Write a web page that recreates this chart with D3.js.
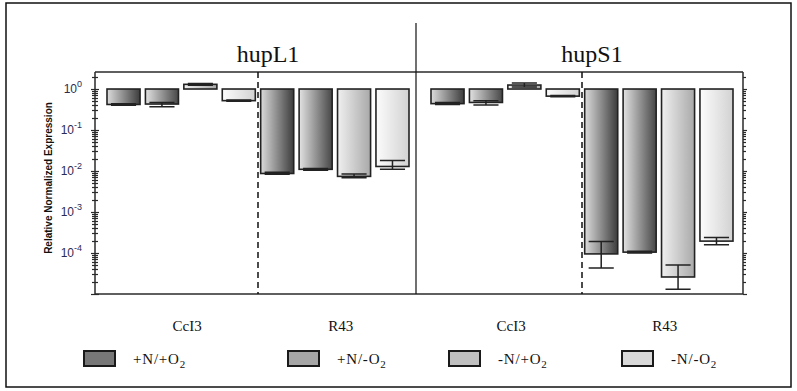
<!DOCTYPE html>
<html>
<head>
<meta charset="utf-8">
<script src="https://cdn.jsdelivr.net/npm/d3@7"></script>
<style>
  body { margin: 0; background: #fff; }
  svg { display: block; }
</style>
</head>
<body>
<div class="container"></div>
<script>
// data
const genes = ['hupL1', 'hupS1'];
const strains = ['CcI3', 'R43'];
const treatments = ['+N/+O', '+N/-O', '-N/+O', '-N/-O']; // each followed by subscript 2

// order: CcI3 x 4 treatments, then R43 x 4 treatments
const hupL1Mean = [0.42, 0.43, 1.30, 0.52, 0.0087, 0.0110, 0.0074, 0.0129];
const hupL1Low  = [0.40, 0.37, 1.24, 0.50, 0.0083, 0.0105, 0.0068, 0.0110];
const hupL1High = [0.44, 0.47, 1.36, 0.54, 0.0093, 0.0115, 0.0085, 0.0180];

const hupS1Mean = [0.44, 0.47, 1.25, 0.67, 9.5e-5, 1.05e-4, 2.6e-5, 1.95e-4];
const hupS1Low  = [0.42, 0.41, 1.12, 0.65, 4.3e-5, 1.0e-4, 1.3e-5, 1.6e-4];
const hupS1High = [0.47, 0.52, 1.40, 0.69, 1.9e-4, 1.1e-4, 5.1e-5, 2.4e-4];

const yTickExponents = [0, -1, -2, -3, -4];

// styles
const gradStops = [
  ['#dcdcdc', '#3c3c3c'],
  ['#e2e2e2', '#474747'],
  ['#f0f0f0', '#a9a9a9'],
  ['#fcfcfc', '#d2d2d2']
];
const legendFill = ['#777777', '#a6a6a6', '#c0c0c0', '#d9d9d9'];
const legendX = [84, 288, 449, 622];

const W = 797, H = 391;
const pLeft = 95, pRight = 743, pTop = 72, pBottom = 294;

const svg = d3.select('.container')
  .append('svg')
  .attr('width', W)
  .attr('height', H);

// outer border
svg.append('rect')
  .attr('x', 6).attr('y', 3)
  .attr('width', 785).attr('height', 384)
  .attr('fill', 'none')
  .attr('stroke', '#111')
  .attr('stroke-width', 1.5);

const defs = svg.append('defs');
gradStops.forEach(function(s, i) {
  const g = defs.append('linearGradient')
    .attr('id', 'grad' + i)
    .attr('x1', 0).attr('x2', 1).attr('y1', 0).attr('y2', 0);
  g.append('stop').attr('offset', 0).attr('stop-color', s[0]);
  g.append('stop').attr('offset', 1).attr('stop-color', s[1]);
});

// scales
const y = d3.scaleLog().domain([1e-5, 2.6]).range([pBottom, pTop]);
const xPanel = d3.scaleBand().domain(genes).range([pLeft, pRight]);
const slots = [];
strains.forEach(function(s) {
  treatments.forEach(function(t) { slots.push(s + '|' + t); });
});
const xSlot = d3.scaleBand().domain(slots).range([12, 314]).paddingInner(0.14);

const rows = [];
genes.forEach(function(g) {
  const mean = g === 'hupL1' ? hupL1Mean : hupS1Mean;
  const low = g === 'hupL1' ? hupL1Low : hupS1Low;
  const high = g === 'hupL1' ? hupL1High : hupS1High;
  slots.forEach(function(key, i) {
    rows.push({gene: g, key: key, t: i % 4, mean: mean[i], low: low[i], high: high[i]});
  });
});

// bars from 1 to the value
const bx = d => xPanel(d.gene) + xSlot(d.key);
svg.append('g').selectAll('rect')
  .data(rows)
  .join('rect')
  .attr('x', bx)
  .attr('width', xSlot.bandwidth())
  .attr('y', d => Math.min(y(1), y(d.mean)))
  .attr('height', d => Math.abs(y(d.mean) - y(1)))
  .attr('fill', d => 'url(#grad' + d.t + ')')
  .attr('stroke', '#222')
  .attr('stroke-width', 1.6);

// error bars
const capW = xSlot.bandwidth() * 0.76;
const eb = svg.append('g')
  .attr('stroke', '#222')
  .attr('stroke-width', 1.5)
  .attr('fill', 'none');
eb.selectAll('path')
  .data(rows)
  .join('path')
  .attr('d', function(d) {
    const cx = bx(d) + xSlot.bandwidth() / 2;
    const p = d3.path();
    p.moveTo(cx, y(d.high)); p.lineTo(cx, y(d.low));
    p.moveTo(cx - capW / 2, y(d.high)); p.lineTo(cx + capW / 2, y(d.high));
    p.moveTo(cx - capW / 2, y(d.low)); p.lineTo(cx + capW / 2, y(d.low));
    return p.toString();
  });

// frame
const frame = svg.append('g').attr('stroke', '#2a2a2a').attr('stroke-width', 1.5);
frame.append('line').attr('x1', pLeft).attr('x2', pRight).attr('y1', pTop).attr('y2', pTop);
frame.append('line').attr('x1', pLeft).attr('x2', pRight).attr('y1', pBottom).attr('y2', pBottom);
frame.append('line').attr('x1', pLeft).attr('x2', pLeft).attr('y1', pTop).attr('y2', pBottom);
frame.append('line').attr('x1', pRight).attr('x2', pRight).attr('y1', pTop).attr('y2', pBottom);

// log ticks on left and right axes
const tickVals = [];
for (let e = -5; e <= 0; e++) {
  for (let k = 1; k <= 9; k++) {
    const v = k * Math.pow(10, e);
    if (v >= 1e-5 && v <= 2.6) tickVals.push({v: v, major: k === 1});
  }
}
const ticks = svg.append('g').attr('stroke', '#2a2a2a').attr('stroke-width', 1.2);
ticks.selectAll('.tl')
  .data(tickVals)
  .enter().append('line')
  .attr('x1', d => pLeft - (d.major ? 4 : 3))
  .attr('x2', d => pLeft + (d.major ? 4 : 3))
  .attr('y1', d => Math.round(y(d.v)) + 0.5)
  .attr('y2', d => Math.round(y(d.v)) + 0.5);
ticks.selectAll('.tr')
  .data(tickVals)
  .enter().append('line')
  .attr('x1', pRight)
  .attr('x2', d => pRight + (d.major ? 4 : 3))
  .attr('y1', d => Math.round(y(d.v)) + 0.5)
  .attr('y2', d => Math.round(y(d.v)) + 0.5);

// tick labels
const tl = svg.append('g')
  .attr('font-family', 'Liberation Sans, Arial, sans-serif')
  .attr('fill', '#2b2b55');
yTickExponents.forEach(function(e) {
  const t = tl.append('text')
    .attr('x', 82)
    .attr('y', y(Math.pow(10, e)) + 4)
    .attr('text-anchor', 'end')
    .attr('font-size', 12);
  t.append('tspan').text('10');
  t.append('tspan').attr('dy', -6).attr('font-size', 9).text(e === 0 ? '0' : '-' + Math.abs(e));
});

svg.append('text')
  .attr('transform', 'translate(52,178) rotate(-90)')
  .attr('text-anchor', 'middle')
  .attr('font-family', 'Liberation Sans, Arial, sans-serif')
  .attr('font-weight', 'bold')
  .attr('font-size', 10)
  .attr('fill', '#111')
  .text('Relative Normalized Expression');

// dashed separators between strains
const dashX = g => xPanel(g) + (xSlot(slots[3]) + xSlot.bandwidth() + xSlot(slots[4])) / 2;
svg.append('g').selectAll('line')
  .data(genes)
  .join('line')
  .attr('x1', dashX)
  .attr('x2', dashX)
  .attr('y1', pTop)
  .attr('y2', pBottom)
  .attr('stroke', '#111')
  .attr('stroke-width', 1.5)
  .attr('stroke-dasharray', '6,4');

// solid separator between genes
svg.append('line')
  .attr('x1', xPanel('hupS1') - 3).attr('x2', xPanel('hupS1') - 3)
  .attr('y1', 23).attr('y2', pBottom)
  .attr('stroke', '#111')
  .attr('stroke-width', 1.2);

// gene titles
svg.append('g').selectAll('text')
  .data(genes)
  .join('text')
  .attr('x', g => xPanel(g) + xPanel.bandwidth() / 2 + 11)
  .attr('y', 62)
  .attr('text-anchor', 'middle')
  .attr('font-family', 'Liberation Serif, Times New Roman, serif')
  .attr('font-size', 24)
  .attr('fill', '#111')
  .text(g => g);

// strain labels
const strainLabels = [];
genes.forEach(function(g) {
  strains.forEach(function(s) { strainLabels.push({gene: g, strain: s}); });
});
svg.append('g').selectAll('text')
  .data(strainLabels)
  .join('text')
  .attr('x', d => xPanel(d.gene) + (xSlot(d.strain + '|' + treatments[0]) + xSlot(d.strain + '|' + treatments[3]) + xSlot.bandwidth()) / 2 + 6)
  .attr('y', 331)
  .attr('text-anchor', 'middle')
  .attr('font-family', 'Liberation Serif, Times New Roman, serif')
  .attr('font-size', 15)
  .attr('fill', '#111')
  .text(d => d.strain);

// legend
const leg = svg.append('g').selectAll('g')
  .data(treatments)
  .join('g')
  .attr('transform', (d, i) => 'translate(' + legendX[i] + ',351)');
leg.append('rect')
  .attr('width', 31).attr('height', 15)
  .attr('fill', (d, i) => legendFill[i])
  .attr('stroke', '#1a1a1a')
  .attr('stroke-width', 2);
const lt = leg.append('text')
  .attr('x', 49)
  .attr('y', 13)
  .attr('font-family', 'Liberation Serif, Times New Roman, serif')
  .attr('font-size', 15)
  .attr('letter-spacing', 0.8)
  .attr('fill', '#111');
lt.append('tspan').text(d => d);
lt.append('tspan').attr('dy', 4).attr('font-size', 11).text('2');
</script>
</body>
</html>
